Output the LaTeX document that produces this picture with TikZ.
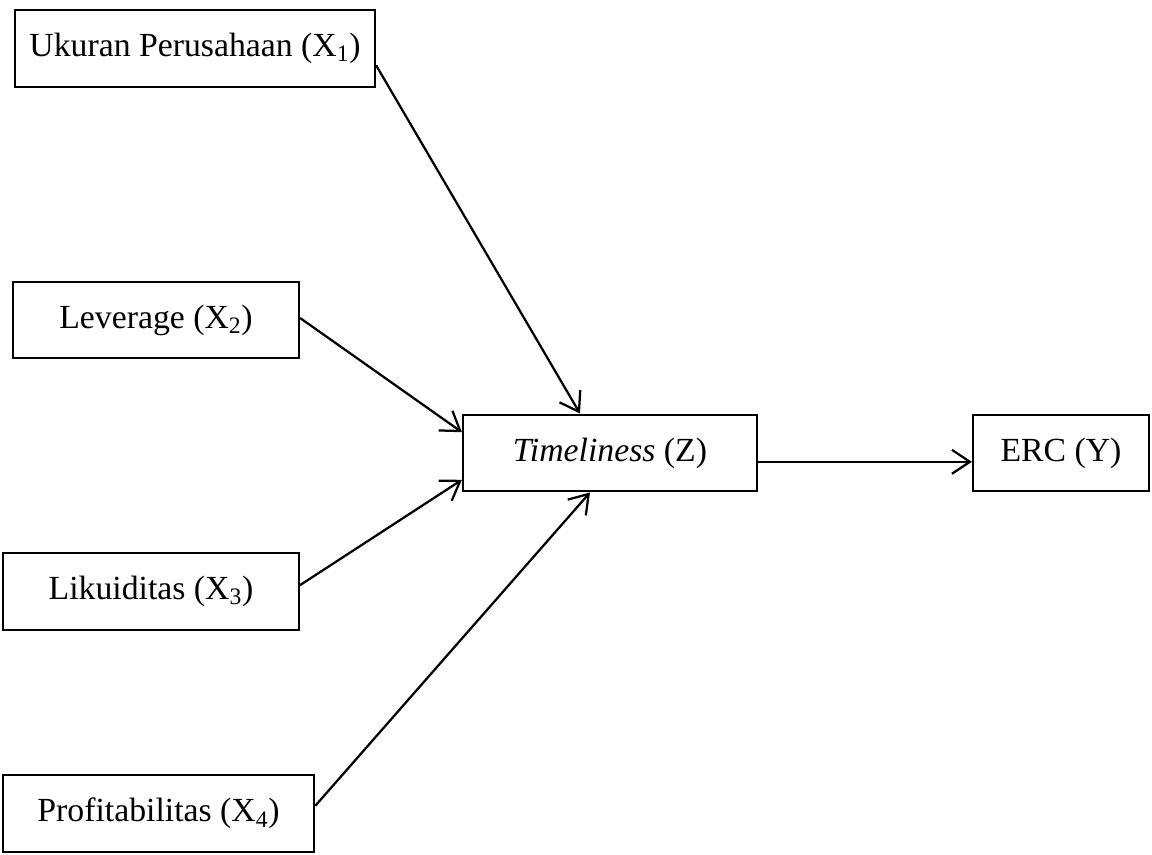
\documentclass[tikz,border=0pt]{standalone}
\usepackage{fontspec}
\setmainfont{Liberation Serif}
\usetikzlibrary{arrows.meta}

\begin{document}
\begin{tikzpicture}[
  x=0.025cm, y=-0.025cm,
  var/.style={draw, line width=1.5pt, minimum height=1.92cm,
              inner sep=2pt, font=\fontsize{24}{28}\selectfont},
  arr/.style={-{Straight Barb[length=0.45cm, width=0.6cm, line width=1.6pt]},
              line width=1.6pt},
]
\useasboundingbox (0, 0) rectangle (1152, 855);

% ---- Independent variables -------------------------------------------------
\node[var, minimum width=9cm] (size) at (195, 48.5)
  {Ukuran Perusahaan (X\textsubscript{1})};
\node[var, minimum width=7.15cm] (lev) at (156, 320)
  {Leverage (X\textsubscript{2})};
\node[var, minimum width=7.4cm] (liq) at (151, 591.5)
  {Likuiditas (X\textsubscript{3})};
\node[var, minimum width=7.78cm] (prof) at (158.5, 813.5)
  {Profitabilitas (X\textsubscript{4})};

% ---- Intervening and dependent variable ------------------------------------
\node[var, minimum width=7.35cm] (time) at (610, 453)
  {\textit{Timeliness} (Z)};
\node[var, minimum width=4.4cm] (erc) at (1061, 453)
  {ERC (Y)};

% ---- Paths ------------------------------------------------------------------
\draw[arr] ([yshift=-0.42cm]size.east) -- ([xshift=-0.75cm]time.north);
\draw[arr] ([yshift=0.05cm]lev.east) -- ([yshift=0.52cm]time.west);
\draw[arr] ([yshift=0.16cm]liq.east) -- ([yshift=-0.67cm]time.west);
\draw[arr] ([yshift=0.19cm]prof.east) -- ([xshift=-0.5cm]time.south);
\draw[arr] ([yshift=-0.22cm]time.east) -- ([yshift=-0.22cm]erc.west);

\end{tikzpicture}
\end{document}
